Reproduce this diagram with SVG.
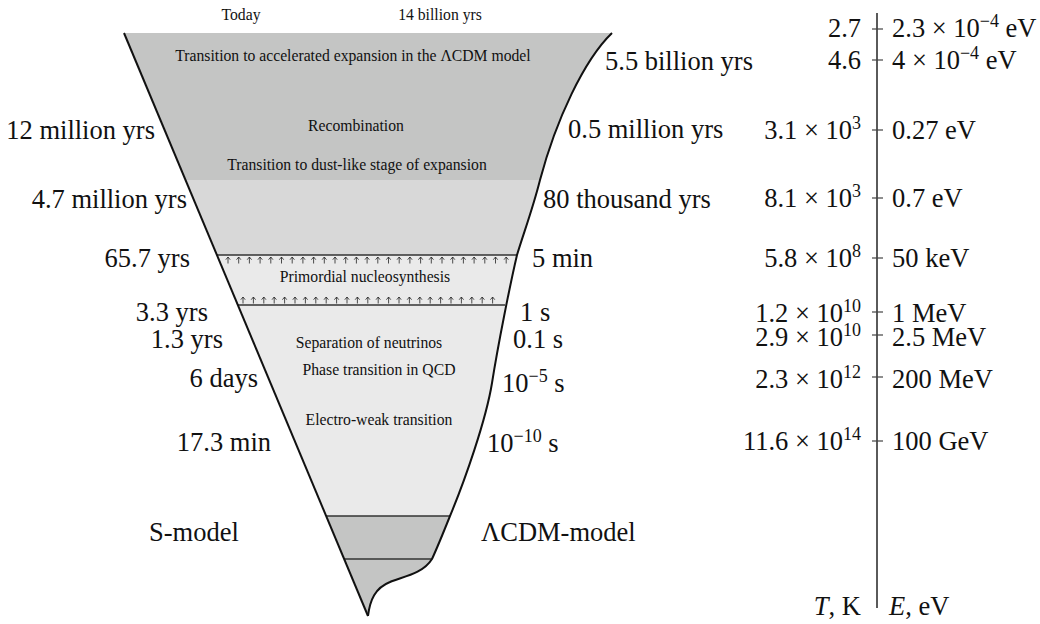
<svg xmlns="http://www.w3.org/2000/svg" xmlns:xlink="http://www.w3.org/1999/xlink" width="1040" height="624" viewBox="0 0 1040 624">
<style>
text{font-family:"Liberation Serif","Times New Roman",serif;fill:#111}
.s{font-size:15.7px;text-anchor:middle}
.b{font-size:26.5px}
.e{text-anchor:end}
.sup{font-size:18px}
.edge{fill:none;stroke:#111;stroke-width:2}
.hl{stroke:#333;stroke-width:1.3}
.tick{stroke:#444;stroke-width:1.2}
.arr{fill:none;stroke:#222;stroke-width:0.8}
</style>
<defs>
<clipPath id="fc">
<path d="M124,33 L612,33 C584,60 556,120 540,180 C533,208 524,232 517,255 C510,285 498,345 492,383 C486,420 465,480 450,516 C444,531 438,546 432,559 C422,575 400,577 390,582 C375,588 370,600 368,616 Z"/>
</clipPath>
<path id="a" class="arr" d="M0,0 L0,-6.5 M-2.2,-3.8 L0,-6.5 L2.2,-3.8"/>
</defs>
<g id="funnel">
<g clip-path="url(#fc)">
<rect x="100" y="0" width="540" height="180" fill="#c4c5c4"/>
<rect x="100" y="180" width="540" height="75" fill="#d8d8d8"/>
<rect x="100" y="255" width="540" height="261" fill="#eaeaea"/>
<rect x="100" y="516" width="540" height="110" fill="#c4c5c4"/>
</g>
<line class="hl" x1="217" y1="255" x2="517" y2="255"/>
<line class="hl" x1="238" y1="305" x2="505" y2="305"/>
<line class="hl" x1="326" y1="516" x2="450" y2="516"/>
<line class="hl" x1="344" y1="559" x2="432" y2="559"/>
<path class="edge" d="M124,33 L368,616"/>
<path class="edge" d="M612,33 C584,60 556,120 540,180 C533,208 524,232 517,255 C510,285 498,345 492,383 C486,420 465,480 450,516 C444,531 438,546 432,559 C422,575 400,577 390,582 C375,588 370,600 368,616"/>
</g>
<g id="arrows">
<use href="#a" x="228" y="263.5"/><use href="#a" x="238.7" y="263.5"/><use href="#a" x="249.4" y="263.5"/><use href="#a" x="260.1" y="263.5"/><use href="#a" x="270.8" y="263.5"/><use href="#a" x="281.5" y="263.5"/><use href="#a" x="292.2" y="263.5"/><use href="#a" x="302.9" y="263.5"/><use href="#a" x="313.6" y="263.5"/><use href="#a" x="324.3" y="263.5"/><use href="#a" x="335" y="263.5"/><use href="#a" x="345.7" y="263.5"/><use href="#a" x="356.4" y="263.5"/><use href="#a" x="367.1" y="263.5"/><use href="#a" x="377.8" y="263.5"/><use href="#a" x="388.5" y="263.5"/><use href="#a" x="399.2" y="263.5"/><use href="#a" x="409.9" y="263.5"/><use href="#a" x="420.6" y="263.5"/><use href="#a" x="431.3" y="263.5"/><use href="#a" x="442" y="263.5"/><use href="#a" x="452.7" y="263.5"/><use href="#a" x="463.4" y="263.5"/><use href="#a" x="474.1" y="263.5"/><use href="#a" x="484.8" y="263.5"/><use href="#a" x="495.5" y="263.5"/><use href="#a" x="506.2" y="263.5"/>
<use href="#a" x="243" y="303.5"/><use href="#a" x="253.4" y="303.5"/><use href="#a" x="263.8" y="303.5"/><use href="#a" x="274.2" y="303.5"/><use href="#a" x="284.6" y="303.5"/><use href="#a" x="295" y="303.5"/><use href="#a" x="305.4" y="303.5"/><use href="#a" x="315.8" y="303.5"/><use href="#a" x="326.2" y="303.5"/><use href="#a" x="336.6" y="303.5"/><use href="#a" x="347" y="303.5"/><use href="#a" x="357.4" y="303.5"/><use href="#a" x="367.8" y="303.5"/><use href="#a" x="378.2" y="303.5"/><use href="#a" x="388.6" y="303.5"/><use href="#a" x="399" y="303.5"/><use href="#a" x="409.4" y="303.5"/><use href="#a" x="419.8" y="303.5"/><use href="#a" x="430.2" y="303.5"/><use href="#a" x="440.6" y="303.5"/><use href="#a" x="451" y="303.5"/><use href="#a" x="461.4" y="303.5"/><use href="#a" x="471.8" y="303.5"/><use href="#a" x="482.2" y="303.5"/><use href="#a" x="492.6" y="303.5"/>
</g>
<g id="events">
<text class="s" x="241" y="20">Today</text>
<text class="s" x="440" y="20">14 billion yrs</text>
<text class="s" x="353" y="61">Transition to accelerated expansion in the ΛCDM model</text>
<text class="s" x="356" y="131">Recombination</text>
<text class="s" x="357" y="170">Transition to dust-like stage of expansion</text>
<text class="s" x="365" y="282">Primordial nucleosynthesis</text>
<text class="s" x="369" y="348">Separation of neutrinos</text>
<text class="s" x="379" y="375">Phase transition in QCD</text>
<text class="s" x="379" y="425">Electro-weak transition</text>
</g>
<g id="s-model-times">
<text class="b e" x="155" y="139">12 million yrs</text>
<text class="b e" x="187" y="208">4.7 million yrs</text>
<text class="b e" x="190" y="267">65.7 yrs</text>
<text class="b e" x="208" y="321">3.3 yrs</text>
<text class="b e" x="223" y="348">1.3 yrs</text>
<text class="b e" x="258" y="387">6 days</text>
<text class="b e" x="271" y="451">17.3 min</text>
<text class="b" x="149" y="541">S-model</text>
</g>
<g id="lcdm-times">
<text class="b" x="605" y="70">5.5 billion yrs</text>
<text class="b" x="568" y="138">0.5 million yrs</text>
<text class="b" x="543" y="208">80 thousand yrs</text>
<text class="b" x="532" y="267">5 min</text>
<text class="b" x="520" y="321">1 s</text>
<text class="b" x="513" y="348">0.1 s</text>
<text class="b" x="502" y="392">10<tspan class="sup" dy="-10">−5</tspan><tspan dy="10"> s</tspan></text>
<text class="b" x="487" y="452">10<tspan class="sup" dy="-10">−10</tspan><tspan dy="10"> s</tspan></text>
<text class="b" x="481" y="541">ΛCDM-model</text>
</g>
<g id="scale">
<line x1="877" y1="13" x2="877" y2="608" stroke="#5a5a5a" stroke-width="2"/>
<line class="tick" x1="872" y1="29" x2="883" y2="29"/>
<line class="tick" x1="872" y1="60" x2="883" y2="60"/>
<line class="tick" x1="872" y1="130" x2="883" y2="130"/>
<line class="tick" x1="872" y1="198" x2="883" y2="198"/>
<line class="tick" x1="872" y1="258" x2="883" y2="258"/>
<line class="tick" x1="872" y1="312" x2="883" y2="312"/>
<line class="tick" x1="872" y1="335" x2="883" y2="335"/>
<line class="tick" x1="872" y1="377" x2="883" y2="377"/>
<line class="tick" x1="872" y1="441" x2="883" y2="441"/>
<text class="b e" x="861" y="37">2.7</text>
<text class="b e" x="861" y="69">4.6</text>
<text class="b e" x="861" y="139">3.1 × 10<tspan class="sup" dy="-10">3</tspan></text>
<text class="b e" x="861" y="207">8.1 × 10<tspan class="sup" dy="-10">3</tspan></text>
<text class="b e" x="861" y="267">5.8 × 10<tspan class="sup" dy="-10">8</tspan></text>
<text class="b e" x="861" y="322">1.2 × 10<tspan class="sup" dy="-10">10</tspan></text>
<text class="b e" x="861" y="346">2.9 × 10<tspan class="sup" dy="-10">10</tspan></text>
<text class="b e" x="861" y="388">2.3 × 10<tspan class="sup" dy="-10">12</tspan></text>
<text class="b e" x="861" y="450">11.6 × 10<tspan class="sup" dy="-10">14</tspan></text>
<text class="b" x="892" y="37">2.3 × 10<tspan class="sup" dy="-10">−4</tspan><tspan dy="10"> eV</tspan></text>
<text class="b" x="892" y="69">4 × 10<tspan class="sup" dy="-10">−4</tspan><tspan dy="10"> eV</tspan></text>
<text class="b" x="892" y="139">0.27 eV</text>
<text class="b" x="892" y="207">0.7 eV</text>
<text class="b" x="892" y="267">50 keV</text>
<text class="b" x="892" y="322">1 MeV</text>
<text class="b" x="892" y="346">2.5 MeV</text>
<text class="b" x="892" y="388">200 MeV</text>
<text class="b" x="892" y="450">100 GeV</text>
<text class="b e" x="861" y="615"><tspan font-style="italic">T</tspan>, K</text>
<text class="b" x="889" y="615"><tspan font-style="italic">E</tspan>, eV</text>
</g>
</svg>
